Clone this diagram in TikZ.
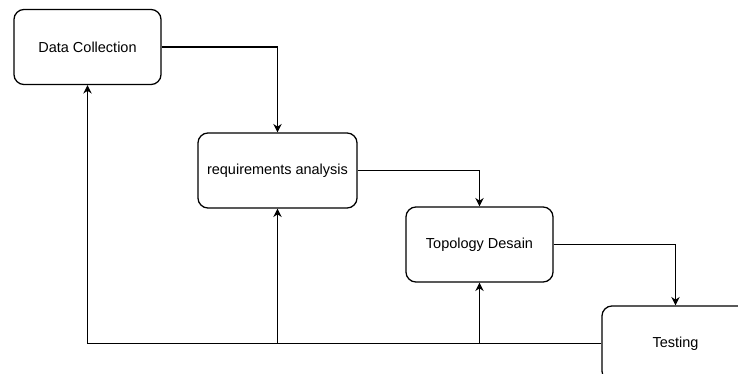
\documentclass[tikz,border=0pt]{standalone}
\usepackage{fontspec}
\setmainfont{Liberation Sans}
\usetikzlibrary{arrows.meta}

\begin{document}
\begin{tikzpicture}[x=0.025cm,y=-0.025cm,
    stage/.style={draw, line width=0.9pt, rounded corners=0.25cm, minimum height=1.875cm, font=\fontsize{10.3}{12}\selectfont},
    flow/.style={line width=0.9pt, -{Stealth[length=6pt,width=6pt]}}]
    \useasboundingbox (0,0) rectangle (738,374);
    \clip (0,0) rectangle (738,374);
    \node[stage, minimum width=3.675cm] (collect) at (87.5,47) {Data Collection};
    \node[stage, minimum width=3.975cm] (analysis) at (277.5,170.5) {requirements analysis};
    \node[stage, minimum width=3.675cm] (topology) at (479.5,244.5) {Topology Desain};
    \node[stage, minimum width=3.675cm] (testing) at (675.5,343.5) {Testing};
    \draw[flow] (collect.east) -| (analysis.north); % down to analysis
    \draw[flow] (analysis.east) -| (topology.north); % down to topology
    \draw[flow] (topology.east) -| (testing.north); % down to testing
    \draw[flow] (testing.west) -| (collect.south); % feedback line
    \draw[flow] (analysis.south |- testing.west) -- (analysis.south); % feedback to analysis
    \draw[flow] (topology.south |- testing.west) -- (topology.south); % feedback to topology
\end{tikzpicture}
\end{document}
